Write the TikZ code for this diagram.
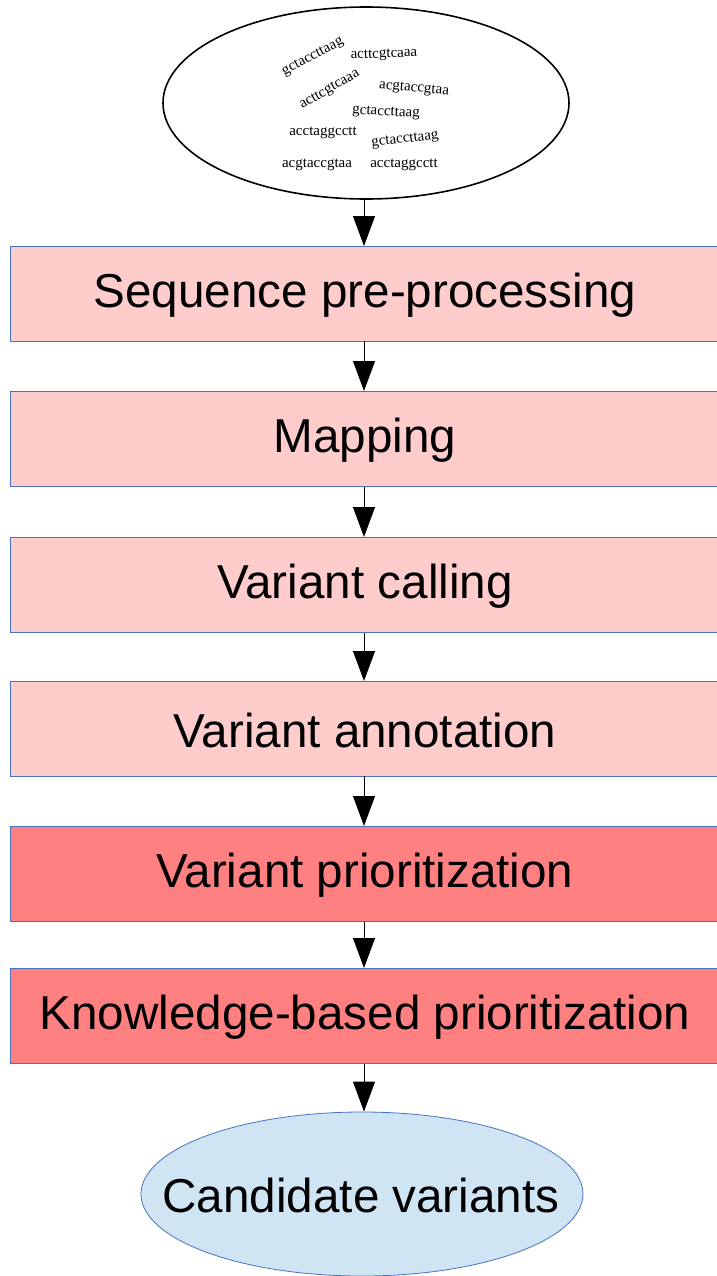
\documentclass[tikz,border=0pt]{standalone}
\usepackage{fontspec}
\setmainfont{Liberation Sans}
\newfontfamily\seqfont{Liberation Serif}
\usetikzlibrary{shapes.geometric,arrows.meta}
\definecolor{stepline}{HTML}{4A72C4}
\definecolor{lightstep}{HTML}{FFCCCC}
\definecolor{darkstep}{HTML}{FF8080}
\definecolor{resultfill}{HTML}{CFE5F3}
\tikzset{
  stepbox/.style={draw=stepline, line width=0.8pt, minimum width=720pt, minimum height=95pt,
    inner sep=0pt, anchor=west},
  light/.style={fill=lightstep},
  dark/.style={fill=darkstep},
  label/.style={font=\fontsize{47.6}{50}\selectfont, inner sep=0pt},
  flow/.style={line width=0.9pt, -{Triangle[length=30pt,width=22pt]}},
  seq/.style={font=\seqfont\fontsize{15}{15}\selectfont, inner sep=0pt},
}
\begin{document}
\begin{tikzpicture}[x=1pt,y=-1pt]
\useasboundingbox (0,0) rectangle (716,1276);
% input reads
\node[ellipse, draw=black, line width=1.6pt, minimum width=406pt, minimum height=192pt, inner sep=0pt] (reads) at (366,103) {};
\node[seq, rotate=28] (r1) at (313,57) {gctaccttaag};
\node[seq, rotate=2] (r2) at (384,55) {acttcgtcaaa};
\node[seq, rotate=30] (r3) at (330,90) {acttcgtcaaa};
\node[seq, rotate=-5] (r4) at (414,89) {acgtaccgtaa};
\node[seq, rotate=-3] (r5) at (386,113) {gctaccttaag};
\node[seq] (r6) at (323,133) {acctaggcctt};
\node[seq, rotate=7] (r7) at (405,140) {gctaccttaag};
\node[seq] (r8) at (317,165) {acgtaccgtaa};
\node[seq] (r9) at (404,165) {acctaggcctt};
% pipeline steps
\node[stepbox, light] (s1) at (10,293.5) {};
\node[label] (t1) at (365,295) {Sequence pre-processing};
\node[stepbox, light] (s2) at (10,439) {};
\node[label] (t2) at (365,440.5) {Mapping};
\node[stepbox, light] (s3) at (10,585) {};
\node[label] (t3) at (365,586.5) {Variant calling};
\node[stepbox, light] (s4) at (10,728.5) {};
\node[label] (t4) at (365,730) {Variant annotation};
\node[stepbox, dark] (s5) at (10,874) {};
\node[label] (t5) at (365,875.5) {Variant prioritization};
\node[stepbox, dark] (s6) at (10,1016) {};
\node[label] (t6) at (365,1017.5) {Knowledge-based prioritization};
% result
\node[ellipse, draw=stepline, line width=0.8pt, fill=resultfill, minimum width=442pt, minimum height=164pt,
  inner sep=0pt] (cand) at (362,1194) {};
\node[label] (ct) at (361,1195) {Candidate variants};
% connectors
\coordinate (a0) at (364,200);
\coordinate (b0) at (364,246);
\draw[flow] (a0) -- (b0);
\coordinate (a1) at (364,341); \coordinate (b1) at (364,391);
\draw[flow] (a1) -- (b1);
\coordinate (a2) at (364,487); \coordinate (b2) at (364,537);
\draw[flow] (a2) -- (b2);
\coordinate (a3) at (364,633); \coordinate (b3) at (364,681);
\draw[flow] (a3) -- (b3);
\coordinate (a4) at (364,776); \coordinate (b4) at (364,826);
\draw[flow] (a4) -- (b4);
\coordinate (a5) at (364,922); \coordinate (b5) at (364,968);
\draw[flow] (a5) -- (b5);
\coordinate (a6) at (364,1064);
\draw[flow] (a6) -- (a6 |- cand.north);
\end{tikzpicture}
\end{document}
